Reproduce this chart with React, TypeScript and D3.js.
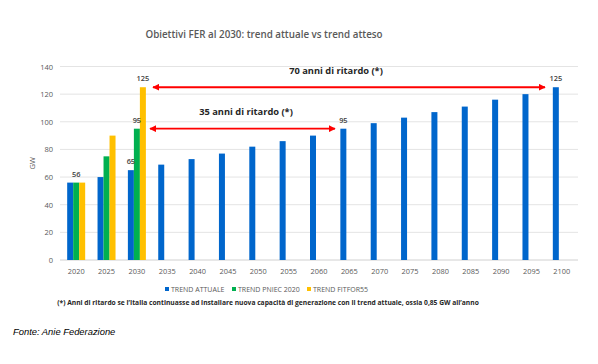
import React from 'react';
import * as d3 from 'd3';

const years = ['2020', '2025', '2030', '2035', '2040', '2045', '2050', '2055', '2060', '2065', '2070', '2075', '2080', '2085', '2090', '2095', '2100'];
const trendAttuale = [56, 60, 65, 69, 73, 77, 82, 86, 90, 95, 99, 103, 107, 111, 116, 120, 125];
const trendPniec = [56, 75, 95];
const trendFitfor = [56, 90, 125];
const yTicks = [0, 20, 40, 60, 80, 100, 120, 140];

const seriesNames = ['TREND ATTUALE', 'TREND PNIEC 2020', 'TREND FITFOR55'];
const colors = ['#0066cc', '#00b050', '#ffc000'];

const W = 598;
const H = 364;

export default function App() {
  const x = d3.scaleBand().domain(years).range([61, 577]).padding(0);
  const y = d3.scaleLinear().domain([0, 140]).range([260, 66.5]);
  const bw = 6;
  const series = [trendAttuale, trendPniec, trendFitfor];
  const cx = (yr: string) => (x(yr) as number) + x.bandwidth() / 2;

  // data labels: [series index, category, value]
  const labels: [number, string, number][] = [
    [1, '2020', 56],
    [0, '2030', 65],
    [1, '2030', 95],
    [2, '2030', 125],
    [0, '2065', 95],
    [0, '2100', 125],
  ];
  const barX = (s: number, yr: string) => cx(yr) - 9 + s * bw;

  const arrow70y = y(125);
  const arrow35y = y(95);

  const font = "'Open Sans', 'Noto Sans', sans-serif";

  return (
    <svg width={W} height={H} style={{ position: 'absolute', left: 0, top: 0, background: '#fff' }}>
      <defs>
        <marker id="ah" viewBox="0 0 10 10" refX="9" refY="5" markerWidth="4" markerHeight="4" orient="auto-start-reverse">
          <path d="M0,0 L10,5 L0,10 z" fill="#ff0000" />
        </marker>
      </defs>
      <rect width={W} height={H} fill="#fff" />
      <text x={264} y={38} textAnchor="middle" fontFamily={font} fontSize={9.8} fontWeight={600} fill="#595959">
        Obiettivi FER al 2030: trend attuale vs trend atteso
      </text>

      {yTicks.map((t) => (
        <g key={t}>
          <line x1={60} x2={578} y1={y(t)} y2={y(t)} stroke={t === 0 ? '#d0d0d0' : '#e4e4e4'} strokeWidth={1} />
          <text x={53} y={y(t) + 3} textAnchor="end" fontFamily={font} fontSize={7.5} fill="#595959">{t}</text>
        </g>
      ))}
      <text transform={`translate(35,${y(70)}) rotate(-90)`} textAnchor="middle" fontFamily={font} fontSize={7.5} fill="#595959">GW</text>

      {series.map((vals, s) =>
        vals.map((v, i) => (
          <rect key={`${s}-${i}`} x={barX(s, years[i])} y={y(v)} width={bw} height={y(0) - y(v)} fill={colors[s]} />
        ))
      )}

      {years.map((yr) => (
        <text key={yr} x={cx(yr)} y={274} textAnchor="middle" fontFamily={font} fontSize={7.4} fill="#595959">{yr}</text>
      ))}

      {labels.map(([s, yr, v], i) => (
        <text key={i} x={barX(s, yr) + bw / 2} y={y(v) - 6} textAnchor="middle" fontFamily={font} fontSize={7.4} fontWeight={600} fill="#404040">{v}</text>
      ))}

      <line x1={153} x2={545} y1={arrow70y} y2={arrow70y} stroke="#ff0000" strokeWidth={1.8} markerStart="url(#ah)" markerEnd="url(#ah)" />
      <text x={336} y={74} textAnchor="middle" fontFamily={font} fontSize={9.3} fontWeight={700} fill="#262626">70 anni di ritardo (*)</text>
      <line x1={150} x2={335} y1={arrow35y} y2={arrow35y} stroke="#ff0000" strokeWidth={1.8} markerStart="url(#ah)" markerEnd="url(#ah)" />
      <text x={246} y={115} textAnchor="middle" fontFamily={font} fontSize={9.3} fontWeight={700} fill="#262626">35 anni di ritardo (*)</text>

      {seriesNames.map((n, i) => {
        const lx = [167, 234, 309][i];
        return (
          <g key={n}>
            <rect x={lx - 2} y={287} width={4} height={4} fill={colors[i]} />
            <text x={lx + 4} y={291.5} fontFamily={font} fontSize={7} fill="#595959">{n}</text>
          </g>
        );
      })}

      <text x={268} y={305} textAnchor="middle" fontFamily={font} fontSize={6.7} fontWeight={700} fill="#262626">
        (*) Anni di ritardo se l’Italia continuasse ad installare  nuova capacità di generazione con il trend attuale, ossia 0,85 GW all’anno
      </text>

      <text x={13} y={335} fontFamily="'Liberation Sans', Arial, sans-serif" fontSize={9.4} fontStyle="italic" fill="#000">
        Fonte: Anie Federazione
      </text>
    </svg>
  );
}
